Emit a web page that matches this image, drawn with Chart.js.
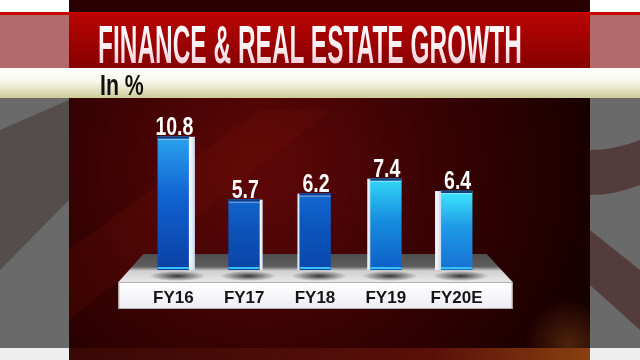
<!DOCTYPE html>
<html>
<head>
<meta charset="utf-8">
<script src="https://cdn.jsdelivr.net/npm/chart.js@4.4.1/dist/chart.umd.min.js"></script>
<style>
  html, body { margin: 0; padding: 0; background: #000; }
  #wrap { position: relative; width: 640px; height: 360px; overflow: hidden; }
  #chart { position: absolute; left: 0; top: 0; }
  .txt { position: absolute; white-space: nowrap; line-height: 1; transform-origin: 0 0;
         font-family: "Liberation Sans", Arial, sans-serif; font-weight: bold; }
  #title { left: 98px; top: 18px; font-size: 53px; color: #fff;
           background: linear-gradient(#ffffff 0%, #fbeef1 55%, #efc3cd 100%);
           -webkit-background-clip: text; background-clip: text; -webkit-text-fill-color: transparent; }
  #unit { left: 100px; top: 70px; font-size: 30px; color: #111; }
</style>
</head>
<body>
<div id="wrap">
  <canvas id="chart" width="640" height="360"></canvas>
  <div id="title" class="txt">FINANCE &amp; REAL ESTATE GROWTH</div>
  <div id="unit" class="txt">In %</div>
</div>
<script>
const years = ["FY16", "FY17", "FY18", "FY19", "FY20E"];
const growth = [10.8, 5.7, 6.2, 7.4, 6.4];
const yMax = 12;

// per bar colours, top -> bottom
const topColors = ["#2aa2ee", "#1266cc", "#1269cf", "#33d6f7", "#3ce8fc"];
const midColors = ["#1062d0", "#0c52b8", "#0c55bc", "#178ee0", "#1e9ae6"];
const botColors = ["#0a40a4", "#0a44a8", "#0a47ac", "#0d5ec6", "#1570d2"];

function fitWidth(id, target) {
  const el = document.getElementById(id);
  el.style.transform = "scaleX(" + (target / el.offsetWidth) + ")";
}
fitWidth("title", 424);
fitWidth("unit", 44);

const backdrop = {
  id: "backdrop",
  beforeDraw(chart) {
    const c = chart.ctx;
    const W = chart.width, H = chart.height;
    c.save();

    // side panels
    c.fillStyle = "#6a6a6a";
    c.fillRect(0, 0, W, H);
    c.fillStyle = "rgba(60,40,40,0.45)";
    c.beginPath();
    c.moveTo(0, 130); c.lineTo(69, 100); c.lineTo(69, 200); c.lineTo(0, 270);
    c.fill();
    c.fillStyle = "rgba(70,30,30,0.6)";
    c.beginPath();
    c.moveTo(590, 150); c.quadraticCurveTo(615, 150, 640, 140);
    c.lineTo(640, 185); c.quadraticCurveTo(615, 195, 590, 195);
    c.fill();
    c.beginPath();
    c.moveTo(590, 230); c.lineTo(640, 270); c.lineTo(640, 330); c.lineTo(590, 285);
    c.fill();

    // central dark red panel
    const rg = c.createRadialGradient(260, 170, 20, 260, 170, 360);
    rg.addColorStop(0, "#5c0707");
    rg.addColorStop(0.45, "#3a0202");
    rg.addColorStop(1, "#140000");
    c.fillStyle = rg;
    c.fillRect(69, 0, 521, 348);
    c.fillStyle = "rgba(120,20,10,0.18)";
    c.beginPath();
    c.moveTo(69, 250); c.lineTo(260, 110); c.lineTo(330, 110); c.lineTo(69, 320);
    c.fill();
    const glow = c.createRadialGradient(570, 345, 2, 570, 345, 45);
    glow.addColorStop(0, "rgba(200,110,40,0.3)");
    glow.addColorStop(1, "rgba(200,110,40,0)");
    c.fillStyle = glow;
    c.fillRect(69, 280, 521, 80);

    // bottom strip
    c.fillStyle = "#eeeeee";
    c.fillRect(0, 348, W, 12);
    const bg = c.createLinearGradient(69, 0, 590, 0);
    bg.addColorStop(0, "#3a0806");
    bg.addColorStop(0.7, "#5a1008");
    bg.addColorStop(1, "#8a4010");
    c.fillStyle = bg;
    c.fillRect(69, 348, 521, 12);

    // top strip
    c.fillStyle = "#ffffff";
    c.fillRect(0, 0, W, 12);
    c.fillStyle = "#2a0000";
    c.fillRect(69, 0, 521, 12);
    c.fillStyle = "#c40000";
    c.fillRect(0, 12, W, 3);

    // title band
    c.fillStyle = "#b26a6a";
    c.fillRect(0, 15, W, 53);
    const tg = c.createLinearGradient(0, 15, 0, 68);
    tg.addColorStop(0, "#b80404");
    tg.addColorStop(1, "#860000");
    c.fillStyle = tg;
    c.fillRect(69, 15, 521, 53);

    // unit band
    const ug = c.createLinearGradient(0, 68, 0, 98);
    ug.addColorStop(0, "#ffffff");
    ug.addColorStop(0.45, "#f8f7ea");
    ug.addColorStop(1, "#cdcd98");
    c.fillStyle = ug;
    c.fillRect(0, 68, W, 30);

    // platform
    const xs = chart.scales.x;
    const base = chart.scales.y.getPixelForValue(0);
    const first = xs.getPixelForValue(0);
    const last = xs.getPixelForValue(years.length - 1);
    const backY = base - 16, frontY = base + 12, botY = base + 39;
    const pg = c.createLinearGradient(0, backY, 0, frontY);
    pg.addColorStop(0, "#4e4e4e");
    pg.addColorStop(0.45, "#5e5e5e");
    pg.addColorStop(0.6, "#cfcfcf");
    pg.addColorStop(1, "#e8e8e8");
    c.fillStyle = pg;
    c.beginPath();
    c.moveTo(first - 30, backY);
    c.lineTo(last + 30, backY);
    c.lineTo(last + 56, frontY);
    c.lineTo(first - 55, frontY);
    c.closePath();
    c.fill();
    const fg = c.createLinearGradient(0, frontY, 0, botY);
    fg.addColorStop(0, "#ffffff");
    fg.addColorStop(1, "#eeecf4");
    c.fillStyle = fg;
    c.fillRect(first - 55, frontY, last - first + 111, botY - frontY);
    c.strokeStyle = "#b0b0b0";
    c.lineWidth = 1;
    c.strokeRect(first - 54.5, frontY + 0.5, last - first + 110, botY - frontY - 1);

    // shadows under the bars
    chart.getDatasetMeta(0).data.forEach((bar) => {
      const sg = c.createRadialGradient(bar.x + 4, base + 6, 1, bar.x + 4, base + 6, 28);
      sg.addColorStop(0, "rgba(30,30,30,0.85)");
      sg.addColorStop(1, "rgba(30,30,30,0)");
      c.save();
      c.translate(bar.x + 4, base + 6);
      c.scale(1, 0.18);
      c.translate(-(bar.x + 4), -(base + 6));
      c.fillStyle = sg;
      c.beginPath();
      c.arc(bar.x + 4, base + 6, 28, 0, Math.PI * 2);
      c.fill();
      c.restore();
    });
    c.restore();
  },
  afterDatasetsDraw(chart) {
    const c = chart.ctx;
    const xs = chart.scales.x;
    const mid = (xs.left + xs.right) / 2;
    const base = chart.scales.y.getPixelForValue(0);
    c.save();
    chart.getDatasetMeta(0).data.forEach((bar, i) => {
      const half = bar.width / 2;
      const dx = bar.x - mid;
      const side = Math.max(2, Math.round(Math.abs(dx) / 142 * 6));
      // side face on the side facing the centre
      const sx = dx < 0 ? bar.x + half : bar.x - half - side;
      const sg = c.createLinearGradient(sx, 0, sx + side, 0);
      sg.addColorStop(0, "#ffffff");
      sg.addColorStop(1, "#c9d9ef");
      c.fillStyle = sg;
      c.fillRect(sx, bar.y, side, base - bar.y);
      // top cap and base line
      c.fillStyle = "#0b3c8e";
      c.fillRect(bar.x - half, bar.y, bar.width, 2);
      c.fillStyle = "rgba(255,255,255,0.5)";
      c.fillRect(bar.x - half, bar.y + 2, bar.width, 1);
      c.fillStyle = "#35c2f2";
      c.fillRect(bar.x - half, base - 3, bar.width, 2);
      // value label, squeezed to a condensed look
      c.save();
      c.translate(bar.x + 1, bar.y - 2);
      c.scale(0.78, 1);
      c.fillStyle = "#ffffff";
      c.font = "bold 25px 'Liberation Sans', Arial, sans-serif";
      c.textAlign = "center";
      c.textBaseline = "alphabetic";
      c.fillText(growth[i].toFixed(1), 0, 0);
      c.restore();
    });
    c.restore();
  }
};

new Chart(document.getElementById("chart"), {
  type: "bar",
  data: {
    labels: years,
    datasets: [
      {
        data: growth,
        barThickness: 31,
        borderWidth: 0,
        backgroundColor: (ctx) => {
          const chart = ctx.chart;
          if (!chart.chartArea) return botColors[ctx.dataIndex];
          const ys = chart.scales.y;
          const top = ys.getPixelForValue(growth[ctx.dataIndex]);
          const bottom = ys.getPixelForValue(0);
          const g = chart.ctx.createLinearGradient(0, top, 0, bottom);
          g.addColorStop(0, topColors[ctx.dataIndex]);
          g.addColorStop(0.45, midColors[ctx.dataIndex]);
          g.addColorStop(1, botColors[ctx.dataIndex]);
          return g;
        },
      },
    ],
  },
  options: {
    responsive: false,
    animation: false,
    layout: { padding: { top: 122, bottom: 50, left: 138, right: 148 } },
    plugins: { legend: { display: false }, tooltip: { enabled: false } },
    scales: {
      y: { display: false, min: 0, max: yMax },
      x: {
        grid: { display: false, drawTicks: false },
        border: { display: false },
        afterFit: (axis) => { axis.height = 40; },
        ticks: {
          padding: 18,
          color: "#151515",
          font: { family: "'Liberation Sans', Arial, sans-serif", size: 17, weight: "bold" },
        },
      },
    },
  },
  plugins: [backdrop],
});
</script>
</body>
</html>
